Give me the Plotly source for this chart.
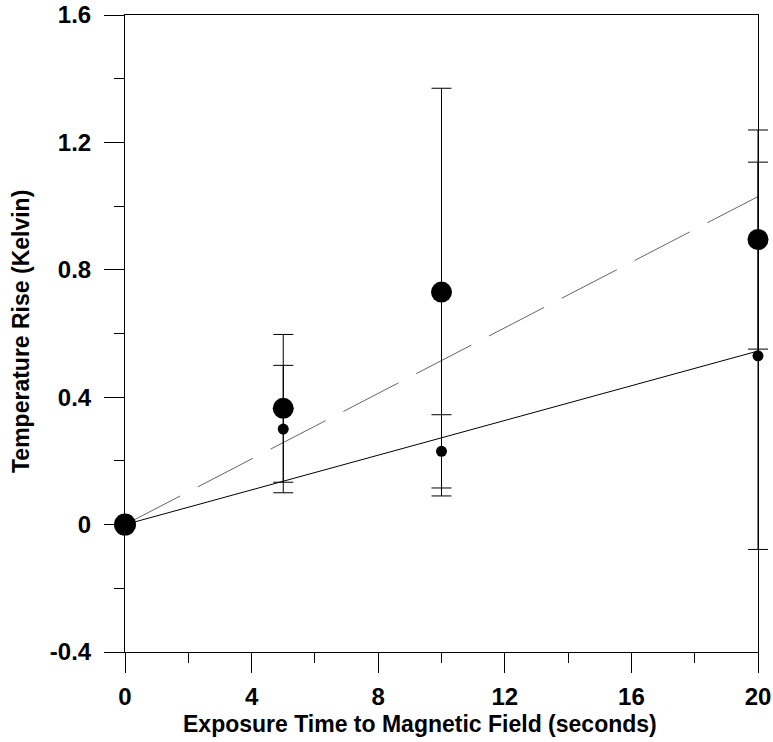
import plotly.graph_objects as go

# Exposure times (seconds)
exposure_s = [0, 5, 10, 20]

# Series A: large markers, mean temperature rise and error half-widths (K)
rise_a = [0.0, 0.365, 0.73, 0.895]
err_a = [None, 0.232, 0.64, 0.344]

# Series B: small markers
rise_b = [0.0, 0.30, 0.23, 0.53]
err_b = [None, 0.20, 0.115, 0.608]

# Linear fits through the origin, evaluated at the ends of the time range
fit_x = [0, 20]
fit_a = [0.0, 1.03]
fit_b = [0.0, 0.545]

# Axis ticks
x_major = [0, 4, 8, 12, 16, 20]
x_minor = [2, 6, 10, 14, 18]
y_major = [-0.4, 0, 0.4, 0.8, 1.2, 1.6]
y_labels = ["-0.4", "0", "0.4", "0.8", "1.2", "1.6"]
y_minor = [-0.2, 0.2, 0.6, 1.0, 1.4]

FONT = "Liberation Sans, Arial, Helvetica, sans-serif"

# Pixel layout: the framed plot spans 633 px; a hidden twin x-axis spans a
# little further to the right so error-bar caps at t=20 are not clipped.
W, H = 773, 742
L, R, T, B = 125, 0, 15, 90
FRAME_W = 633
full_w = W - L - R
frame_frac = FRAME_W / full_w
X_MAX = 20
twin_range = [0, X_MAX / frame_frac]

fig = go.Figure()

# fitted lines
fig.add_trace(go.Scatter(
    x=fit_x, y=fit_a, mode="lines", xaxis="x", yaxis="y",
    line=dict(color="#666666", width=1, dash="62px,20px"),
    showlegend=False, hoverinfo="skip",
))
fig.add_trace(go.Scatter(
    x=fit_x, y=fit_b, mode="lines", xaxis="x", yaxis="y",
    line=dict(color="black", width=1),
    showlegend=False, hoverinfo="skip",
))

# series with error bars (on the twin axis, same data scale)
fig.add_trace(go.Scatter(
    x=exposure_s[1:], y=rise_b[1:], mode="markers", xaxis="x2", yaxis="y",
    marker=dict(color="black", size=11),
    error_y=dict(type="data", array=err_b[1:], visible=True,
                 color="black", thickness=1, width=10),
    cliponaxis=False, showlegend=False,
))
fig.add_trace(go.Scatter(
    x=exposure_s[1:], y=rise_a[1:], mode="markers", xaxis="x2", yaxis="y",
    marker=dict(color="black", size=21),
    error_y=dict(type="data", array=err_a[1:], visible=True,
                 color="black", thickness=1, width=10),
    cliponaxis=False, showlegend=False,
))
# origin point shared by both series
fig.add_trace(go.Scatter(
    x=exposure_s[:1], y=rise_a[:1], mode="markers", xaxis="x2", yaxis="y",
    marker=dict(color="black", size=22),
    cliponaxis=False, showlegend=False,
))

fig.update_layout(
    width=W, height=H,
    margin=dict(l=L, r=R, t=T, b=B),
    paper_bgcolor="white", plot_bgcolor="rgba(0,0,0,0)",
    font=dict(family=FONT, color="black"),
    annotations=[
        dict(text="<b>Exposure Time to Magnetic Field (seconds)</b>",
             xref="paper", yref="paper", x=(420 - L) / full_w, y=-(724 - 652) / 637,
             xanchor="center", yanchor="middle", showarrow=False,
             font=dict(size=23, family=FONT, color="black")),
        dict(text="<b>Temperature Rise (Kelvin)</b>",
             xref="paper", yref="paper", x=-(L - 21) / full_w, y=(652 - 332) / 637,
             xanchor="center", yanchor="middle", textangle=-90, showarrow=False,
             font=dict(size=23, family=FONT, color="black")),
    ],
    xaxis=dict(
        domain=[0, frame_frac], anchor="y",
        range=[0, X_MAX], showgrid=False, zeroline=False, automargin=False,
        showline=True, linecolor="black", linewidth=1, mirror=True,
        tickmode="array", tickvals=x_major, ticktext=[str(v) for v in x_major],
        ticks="outside", ticklen=20, tickwidth=1, tickcolor="black",
        ticklabelstandoff=3,
        tickfont=dict(size=24, family=FONT, color="black", weight="bold"),
        minor=dict(tickmode="array", tickvals=x_minor, ticks="outside",
                   ticklen=10, tickwidth=1, tickcolor="black", showgrid=False),
    ),
    xaxis2=dict(
        domain=[0, 1], anchor="y", range=twin_range, visible=False,
        showgrid=False, zeroline=False, automargin=False,
    ),
    yaxis=dict(
        domain=[0, 1], anchor="x",
        range=[-0.4, 1.6], showgrid=False, zeroline=False, automargin=False,
        showline=True, linecolor="black", linewidth=1, mirror=True,
        tickmode="array", tickvals=y_major, ticktext=y_labels,
        ticks="outside", ticklen=20, tickwidth=1, tickcolor="black",
        ticklabelstandoff=8,
        tickfont=dict(size=24, family=FONT, color="black", weight="bold"),
        minor=dict(tickmode="array", tickvals=y_minor, ticks="outside",
                   ticklen=10, tickwidth=1, tickcolor="black", showgrid=False),
    ),
)

fig.write_html("out.html")
